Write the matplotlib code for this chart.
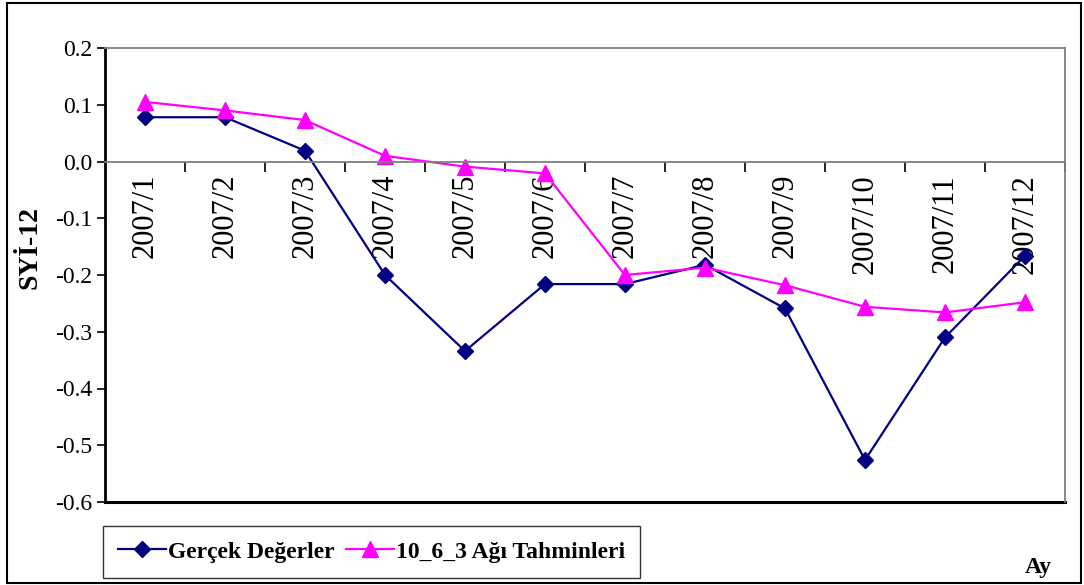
import matplotlib
matplotlib.use('Agg')
import matplotlib.pyplot as plt
from matplotlib.patches import Rectangle

months = ['2007/1', '2007/2', '2007/3', '2007/4', '2007/5', '2007/6',
          '2007/7', '2007/8', '2007/9', '2007/10', '2007/11', '2007/12']
gercek = [0.078, 0.078, 0.019, -0.200, -0.334, -0.216,
          -0.216, -0.182, -0.259, -0.526, -0.310, -0.166]
tahmin = [0.105, 0.090, 0.073, 0.010, -0.009, -0.021,
          -0.200, -0.187, -0.218, -0.256, -0.266, -0.248]
yticks = [0.2, 0.1, 0.0, -0.1, -0.2, -0.3, -0.4, -0.5, -0.6]

plt.rcParams['font.family'] = ['Liberation Serif', 'DejaVu Serif']

fig = plt.figure(figsize=(10.84, 5.85), dpi=100)
ax = fig.add_axes([105/1084, 83/585, 960/1084, 454/585])

x = list(range(len(months)))
ax.plot(x, gercek, color='#000080', lw=1.6, marker='D', ms=8,
        label='Gerçek Değerler')
ax.plot(x, tahmin, color='#FF00FF', lw=1.6, marker='^', ms=11,
        label='10_6_3 Ağı Tahminleri')

ax.set_xlim(-0.5, len(months) - 0.5)
ax.set_ylim(-0.6, 0.2)
ax.set_yticks(yticks)
ax.set_yticklabels(['%.1f' % v for v in yticks], fontsize=17)
ax.tick_params(axis='y', direction='out', length=6, width=1.2, pad=3)

# category axis sits at y = 0
ax.spines['bottom'].set_position(('data', 0))
ax.spines['bottom'].set_color('#808080')
ax.spines['bottom'].set_linewidth(1.3)
ax.set_xticks(x)
ax.set_xticklabels(months, rotation=90, fontsize=22)
ax.set_xticks([i + 0.5 for i in x], minor=True)
ax.tick_params(axis='x', which='major', length=0, pad=9)
ax.tick_params(axis='x', which='minor', length=7, width=1.2, color='black')

ax.spines['left'].set_linewidth(2)
ax.spines['left'].set_color('black')
ax.spines['top'].set_color('#808080')
ax.spines['right'].set_color('#808080')
ax.spines['top'].set_linewidth(1.3)
ax.spines['right'].set_linewidth(1.3)
ax.axhline(-0.6, color='black', lw=2.2, clip_on=False)

ax.set_ylabel('SYİ-12', fontsize=20, fontweight='bold')
ax.yaxis.set_label_coords(-0.065, 0.56)

fig.text(1038/1084, 1 - 567/585, 'Ay', fontsize=17, fontweight='bold',
         ha='center', va='center')

leg = fig.legend(loc='lower left', bbox_to_anchor=(103/1084, 7/585),
                 ncol=2, frameon=True, fancybox=False, borderaxespad=0,
                 prop={'size': 17, 'weight': 'bold'}, handlelength=2.0,
                 handletextpad=0.1, columnspacing=0.5, borderpad=0.65)
leg.get_frame().set_edgecolor('black')
leg.get_frame().set_linewidth(1.0)

fig.patches.append(Rectangle((7/1084, 2/585), 1074/1084, 580/585,
                             transform=fig.transFigure, fill=False,
                             edgecolor='black', lw=1.5))

fig.savefig('out.png', dpi=100)
